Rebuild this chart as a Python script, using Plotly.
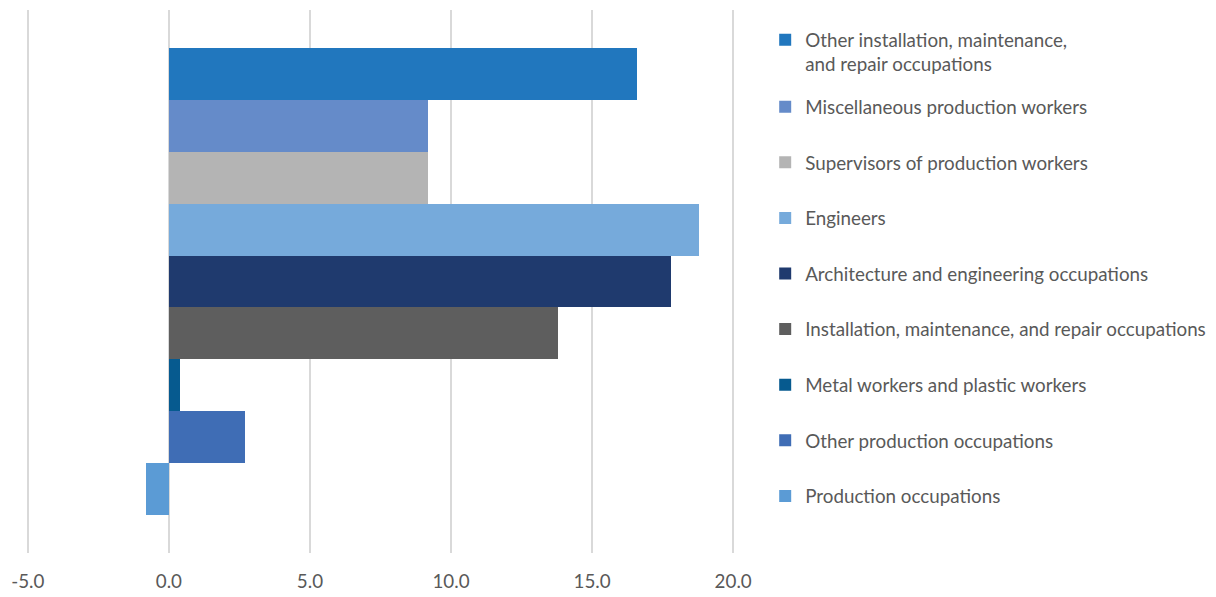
import plotly.graph_objects as go

# Series, listed bottom-to-top as drawn
categories = [
    "Production occupations",
    "Other production occupations",
    "Metal workers and plastic workers",
    "Installation, maintenance, and repair occupations",
    "Architecture and engineering occupations",
    "Engineers",
    "Supervisors of production workers",
    "Miscellaneous production workers",
    "Other installation, maintenance,<br>and repair occupations",
]
values = [-0.8, 2.7, 0.4, 13.8, 17.8, 18.8, 9.2, 9.2, 16.6]
colors = ["#5B9BD5", "#3F6DB5", "#065A8F", "#5E5E5E", "#1F3A6E",
          "#76AADB", "#B4B4B4", "#658BC9", "#2177BE"]
tick_vals = [-5, 0, 5, 10, 15, 20]
tick_text = ["-5.0", "0.0", "5.0", "10.0", "15.0", "20.0"]

# page body has an 8px margin; lay out in figure coordinates
OFF = 8
W, H = 1216 - OFF, 597 - OFF
xr = [-5.1, 20.1]
ppu = (733 - 28) / 25.0
left_px = 28 - OFF - 0.1 * ppu
right_px = 733 - OFF + 0.1 * ppu
top_px, bot_px = 10 - OFF, 553 - OFF
ml, mr, mt, mb = left_px, W - right_px, top_px, H - bot_px
pad = 38 / 51.9
FS = 18.8

# legend entry vertical centres (screen px), one legend box per entry
n = len(categories)
entry_centres = {n - 1: 52}
for k, i in enumerate(reversed(range(n - 1))):
    entry_centres[i] = 107 + k * 55.6

def px_to_paper_x(px):
    return (px - OFF - left_px) / (right_px - left_px)

def px_to_paper_y(py):
    return 1 - (py - OFF - top_px) / (bot_px - top_px)

fig = go.Figure()
legends = {}
for k, i in enumerate(reversed(range(n))):
    lname = "legend" if k == 0 else f"legend{k + 1}"
    fig.add_trace(go.Bar(
        x=[values[i]], y=[i], orientation="h", name=categories[i],
        marker=dict(color=colors[i], line=dict(width=0)),
        legend=lname,
    ))
    legends[lname] = dict(
        x=px_to_paper_x(765), xanchor="left",
        y=px_to_paper_y(entry_centres[i]), yanchor="middle",
        valign="top", font=dict(size=FS, color="#595959"),
        itemwidth=30, bgcolor="rgba(0,0,0,0)",
    )

fig.update_layout(
    width=W, height=H,
    margin=dict(l=ml, r=mr, t=mt, b=mb, pad=0, autoexpand=False),
    paper_bgcolor="white", plot_bgcolor="white",
    barmode="relative", bargap=0,
    font=dict(family="Lato", size=FS, color="#595959"),
    xaxis=dict(range=xr, tickvals=tick_vals, ticktext=tick_text,
               showgrid=True, gridcolor="#D9D9D9", gridwidth=2,
               zeroline=False, showline=False, ticks="", automargin=False,
               ticklabelstandoff=15, tickfont=dict(size=FS, color="#595959")),
    yaxis=dict(range=[-0.5 - pad, 8.5 + pad], showticklabels=False,
               showgrid=False, zeroline=False, showline=False, automargin=False),
    showlegend=True,
    **legends,
)

fig.write_html("out.html")
